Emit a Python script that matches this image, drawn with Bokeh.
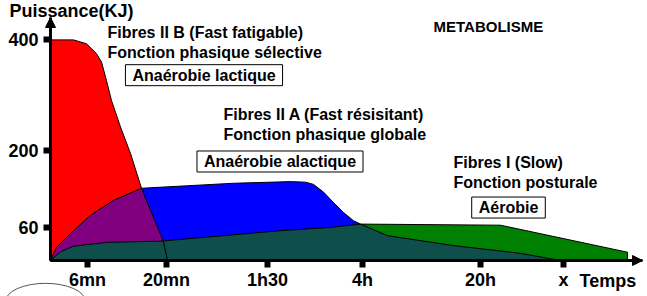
from bokeh.plotting import figure
from bokeh.models import Label, Arrow, NormalHead, FixedTicker, Range1d
from bokeh.embed import file_html
from bokeh.resources import INLINE

# Time axis: positions of the marked durations (axis units) and their labels
time_ticks = [37, 116, 217, 312, 430, 513]
time_labels = ["6mn", "20mn", "1h30", "4h", "20h", "x"]
time_end = 592

# Power axis ticks (KJ)
power_ticks = [60, 200, 400]
power_end = 440.6

# Fibres II B (fast fatigable) - anaérobie lactique
iib_t = [0, 0, 23, 36, 46, 51, 56, 61, 70, 80, 91, 113, 117]
iib_p = [0, 400, 400, 393, 375, 360, 326, 290, 242, 194, 131, 34, 0]

# Fibres II A (fast résistant) - anaérobie alactique
iia_t = [0, 6, 23, 40, 63, 91, 183, 240, 255, 263, 273, 283, 293, 303, 310, 337, 403, 470, 510]
iia_p = [0, 24, 54, 82, 109, 131, 140, 143, 142, 138, 124, 105, 87, 72, 66, 45, 27, 13, 0]

# Fibres I (slow) - aérobie
i_t = [0, 10, 23, 57, 110, 230, 280, 310, 450, 577, 577]
i_p = [0, 16, 26, 33, 35, 54, 60, 66, 64, 15, 0]

RED, BLUE, GREEN = "#FF0000", "#0000FF", "#008000"
PURPLE, TEAL = "#800080", "#0E4E4B"
FONT = "Liberation Sans"

p = figure(width=647, height=296,
           x_range=Range1d(-50, 597), y_range=Range1d(-65.3, 471.4),
           output_backend="svg", toolbar_location=None, min_border=0)
p.xgrid.visible = False
p.ygrid.visible = False
p.outline_line_color = None
p.background_fill_color = "white"

# filled areas of each fibre type
p.patch(iib_t, iib_p, fill_color=RED, line_color=None)
p.patch(iia_t, iia_p, fill_color=BLUE, line_color=None)
p.patch(i_t, i_p, fill_color=GREEN, line_color=None)

# overlap of II B and II A
kb = iia_p.index(131)
ka = iib_p.index(131)
p.patch(iia_t[:kb + 1] + iib_t[ka + 1:], iia_p[:kb + 1] + iib_p[ka + 1:],
        fill_color=PURPLE, line_color=None)

# overlap of I with the fast fibres
ki = i_t.index(310)
kj = iia_t.index(310)
p.patch(i_t[:ki + 1] + iia_t[kj + 1:], i_p[:ki + 1] + iia_p[kj + 1:],
        fill_color=TEAL, line_color=None)

# curve outlines
for xs, ys in ((iib_t, iib_p), (iia_t, iia_p), (i_t, i_p)):
    p.line(xs, ys, line_color="black", line_width=1)

# axes crossing at the origin
for ax in (p.xaxis[0], p.yaxis[0]):
    ax.fixed_location = 0
    ax.axis_line_width = 3
    ax.axis_line_color = "black"
    ax.major_tick_line_width = 6
    ax.major_tick_line_color = "black"
    ax.major_tick_in = 0
    ax.major_tick_out = 7
    ax.minor_tick_out = 0
    ax.minor_tick_in = 0
    ax.major_label_text_font = FONT
    ax.major_label_text_font_style = "bold"
    ax.major_label_text_font_size = "18px"
    ax.major_label_text_color = "black"

p.xaxis.bounds = (0, time_end)
p.xaxis.ticker = FixedTicker(ticks=time_ticks)
p.xaxis.major_label_overrides = {t: l for t, l in zip(time_ticks, time_labels)}
p.xaxis.major_label_standoff = 3

p.yaxis.bounds = (0, power_end)
p.yaxis.ticker = FixedTicker(ticks=power_ticks)
p.yaxis.major_label_standoff = 5

p.add_layout(Arrow(end=NormalHead(size=10, fill_color="black", line_color="black"),
                   x_start=0, y_start=0, x_end=0, y_end=power_end,
                   line_color="black", line_width=3))
p.add_layout(Arrow(end=NormalHead(size=10, fill_color="black", line_color="black"),
                   x_start=0, y_start=0, x_end=time_end, y_end=0,
                   line_color="black", line_width=3))

# faint partial emblem in the bottom-left corner
p.ellipse(x=-5, y=-74.4, width=80, height=66, fill_color=None,
          line_color="#555555", line_width=1)


def text(x, y, s, size="16px", **kw):
    p.add_layout(Label(x=x, y=y, text=s, text_font=FONT, text_font_style="bold",
                       text_font_size=size, text_color="black",
                       text_baseline="alphabetic", **kw))


def boxed(x, y, s):
    p.add_layout(Label(x=x, y=y, text=s, text_font=FONT, text_font_style="bold",
                       text_font_size="16px", text_color="black",
                       text_align="center", text_baseline="middle",
                       border_line_color="black", border_line_width=1,
                       background_fill_color="white",
                       padding=dict(left=7, right=7, top=2, bottom=2)))


text(-41, 453, "Puissance(KJ)", size="18px")
text(383, 423.5, "METABOLISME", size="15px")

text(57, 413.5, "Fibres II B (Fast fatigable)")
text(57, 377, "Fonction phasique sélective")
boxed(153.5, 336, "Anaérobie lactique")

text(173, 265, "Fibres II A (Fast résisitant)")
text(173, 228.6, "Fonction phasique globale")
boxed(229.5, 179.5, "Anaérobie alactique")

text(403, 178, "Fibres I (Slow)")
text(403, 141.6, "Fonction posturale")
boxed(458, 96, "Aérobie")

text(529, -38, "Temps", size="18px")

open("out.html", "w").write(file_html(p, INLINE))
